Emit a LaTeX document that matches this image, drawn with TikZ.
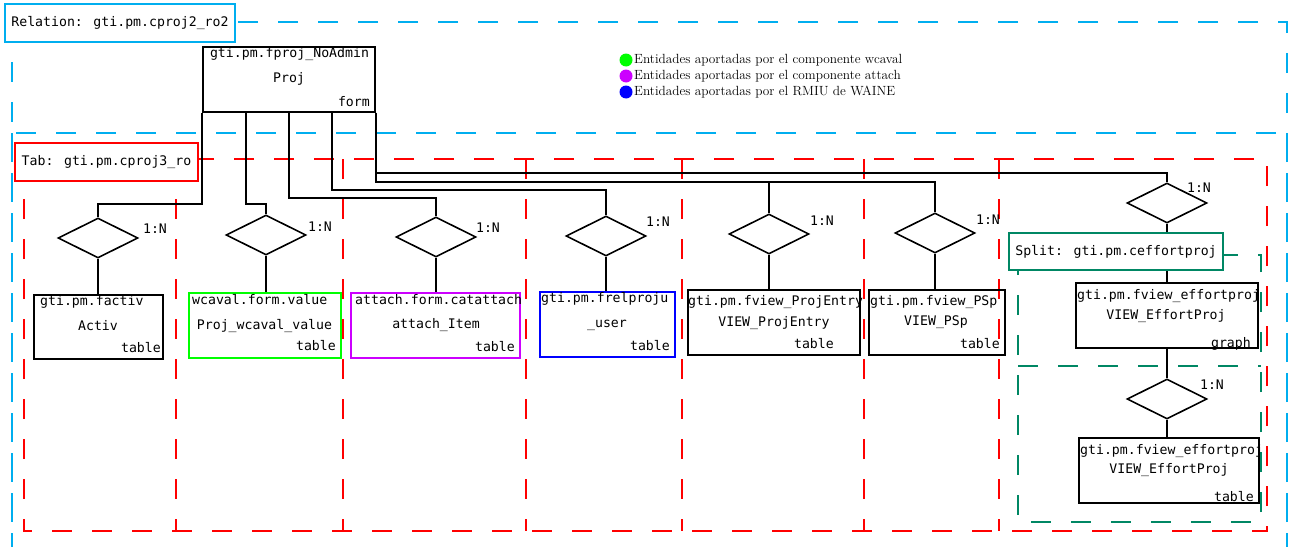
\documentclass[tikz,border=0pt]{standalone}
\usepackage{fontspec}
\newfontfamily\monofont{DejaVu Sans Mono}
\usetikzlibrary{shapes.geometric}
\definecolor{relcyan}{RGB}{0,174,239}
\definecolor{tabred}{RGB}{255,0,0}
\definecolor{splitgreen}{RGB}{0,135,100}
\definecolor{wgreen}{RGB}{0,255,0}
\definecolor{amag}{RGB}{204,0,255}
\definecolor{rblue}{RGB}{0,0,255}
\begin{document}
\begin{tikzpicture}[x=1pt,y=-1pt,
  mono/.style={font=\monofont\fontsize{13.2}{15}\selectfont, inner sep=0pt},
  ent/.style={draw, line width=1.6pt, inner sep=0pt},
  rel/.style={draw, diamond, line width=1.6pt, minimum width=80pt, minimum height=40pt, inner sep=0pt},
  conn/.style={line width=1.5pt},
  dashframe/.style={dash pattern=on 20pt off 20pt, line width=1.6pt},
  lbl/.style={fill=white, line width=1.6pt, inner sep=0pt, text=black, font=\monofont\fontsize{13.2}{15}\selectfont},
  legtext/.style={anchor=west, inner sep=0pt, font=\fontsize{13.3}{15}\selectfont}
]
\useasboundingbox (0,0) rectangle (1290,546);
\clip (0,0) rectangle (1290,546);
% frames
\draw[dashframe, relcyan] (12,22) rectangle (1287,570);
\draw[dashframe, relcyan] (12,133) rectangle (1287,570);
\draw[dashframe, tabred] (24,159) rectangle (1267,531);
\foreach \xx in {176,343,526,682,864,999}{
  \draw[dashframe, tabred] (\xx,159) -- (\xx,531);
}
\draw[dashframe, splitgreen] (1018,255) rectangle (1261,522);
\draw[dashframe, splitgreen] (1018,366) -- (1261,366);

% top entity
\node[ent, minimum width=172pt, minimum height=65pt] (proj) at (289,79.5) {};
\node[mono] (projt) at (289.5,54) {gti.pm.fproj\_NoAdmin};
\node[mono] (projm) at (289,79) {Proj};
\node[mono, anchor=east] (projb) at (370,102) {form};

% relationships
\node[rel] (d1) at (98,238) {};
\node[rel] (d2) at (266,235) {};
\node[rel] (d3) at (436,237) {};
\node[rel] (d4) at (606,236) {};
\node[rel] (d5) at (769,234) {};
\node[rel] (d6) at (935,233) {};
\node[rel] (d7) at (1167,203) {};
\node[rel] (d8) at (1167,399) {};

\node[mono] (c1) at (155,229) {1:N};
\node[mono] (c2) at (320,227) {1:N};
\node[mono] (c3) at (488,228) {1:N};
\node[mono] (c4) at (658,222) {1:N};
\node[mono] (c5) at (822,221) {1:N};
\node[mono] (c6) at (988,220) {1:N};
\node[mono] (c7) at (1199,188) {1:N};
\node[mono] (c8) at (1212,385) {1:N};

% entity boxes
\node[ent, minimum width=129pt, minimum height=64pt] (e1) at (98.5,327) {};
\node[ent, wgreen, minimum width=152pt, minimum height=65pt] (e2) at (265,325.5) {};
\node[ent, amag, minimum width=169pt, minimum height=65pt] (e3) at (435.5,325.5) {};
\node[ent, rblue, minimum width=135pt, minimum height=65pt] (e4) at (607.5,324.5) {};
\node[ent, minimum width=172pt, minimum height=65pt] (e5) at (774,322.5) {};
\node[ent, minimum width=136pt, minimum height=65pt] (e6) at (937,322.5) {};
\node[ent, minimum width=182pt, minimum height=65pt] (e7) at (1167,315.5) {};
\node[ent, minimum width=180pt, minimum height=65pt] (e8) at (1169,470.5) {};

% connectors
\coordinate (p2) at (246,112);
\coordinate (p3) at (289,112);
\coordinate (p4) at (332,112);
\draw[conn] (proj.south west) -- ++(0,91) -| (d1.north);
\draw[conn] (p2) -- ++(0,92) -| (d2.north);
\draw[conn] (p3) -- ++(0,86) -| (d3.north);
\draw[conn] (p4) -- ++(0,78) -| (d4.north);
\draw[conn] (proj.south east) -- ++(0,69) -| (d5.north);
\draw[conn] (proj.south east) -- ++(0,69) -| (d6.north);
\draw[conn] (proj.south east) -- ++(0,60) -| (d7.north);
\draw[conn] (d1.south) -- (d1.south |- e1.north);
\draw[conn] (d2.south) -- (d2.south |- e2.north);
\draw[conn] (d3.south) -- (d3.south |- e3.north);
\draw[conn] (d4.south) -- (d4.south |- e4.north);
\draw[conn] (d5.south) -- (d5.south |- e5.north);
\draw[conn] (d6.south) -- (d6.south |- e6.north);
\draw[conn] (d7.south) -- (d7.south |- e7.north);
\draw[conn] (e7.south -| d8.north) -- (d8.north);
\draw[conn] (d8.south) -- (d8.south |- e8.north);

% entity texts
\node[mono, anchor=west] (t1a) at (40,302) {gti.pm.factiv};
\node[mono] (t1b) at (98,326) {Activ};
\node[mono, anchor=east] (t1c) at (161,348) {table};

\node[mono, anchor=west] (t2a) at (192,300) {wcaval.form.value};
\node[mono] (t2b) at (264.5,326) {Proj\_wcaval\_value};
\node[mono, anchor=east] (t2c) at (336,346) {table};

\node[mono, anchor=west] (t3a) at (355,300) {attach.form.catattach};
\node[mono] (t3b) at (436,325) {attach\_Item};
\node[mono, anchor=east] (t3c) at (515,347) {table};

\node[mono, anchor=west] (t4a) at (541,299) {gti.pm.frelproju};
\node[mono] (t4b) at (607,325) {\_user};
\node[mono, anchor=east] (t4c) at (670,346) {table};

\node[mono, anchor=west] (t5a) at (688,302) {gti.pm.fview\_ProjEntry};
\node[mono] (t5b) at (774,323) {VIEW\_ProjEntry};
\node[mono, anchor=east] (t5c) at (834,344) {table};

\node[mono, anchor=west] (t6a) at (870,302) {gti.pm.fview\_PSp};
\node[mono] (t6b) at (936,322) {VIEW\_PSp};
\node[mono, anchor=east] (t6c) at (1000,344) {table};

\node[mono, anchor=west] (t7a) at (1077,296) {gti.pm.fview\_effortproj};
\node[mono] (t7b) at (1166,316) {VIEW\_EffortProj};
\node[mono, anchor=east] (t7c) at (1251,344) {graph};

\node[mono, anchor=west] (t8a) at (1080,451) {gti.pm.fview\_effortproj};
\node[mono] (t8b) at (1169,470) {VIEW\_EffortProj};
\node[mono, anchor=east] (t8c) at (1254,497) {table};

% frame labels
\node[lbl, draw=relcyan, minimum width=230pt, minimum height=38pt] (rellbl) at (120,23) {Relation: gti.pm.cproj2\_ro2};
\node[lbl, draw=tabred, minimum width=183pt, minimum height=38pt] (tablbl) at (106.5,162) {Tab: gti.pm.cproj3\_ro};
\node[lbl, draw=splitgreen, minimum width=214pt, minimum height=37pt] (splitlbl) at (1116,251.5) {Split: gti.pm.ceffortproj};

% legend
\node[circle, fill=wgreen, minimum size=13pt, inner sep=0pt] (lg1) at (626,60) {};
\node[circle, fill=amag, minimum size=13pt, inner sep=0pt] (lg2) at (626,76) {};
\node[circle, fill=rblue, minimum size=13pt, inner sep=0pt] (lg3) at (626,92) {};
\node[legtext] (lt1) at (634,60) {Entidades aportadas por el componente wcaval};
\node[legtext] (lt2) at (634,76) {Entidades aportadas por el componente attach};
\node[legtext] (lt3) at (634,92) {Entidades aportadas por el RMIU de WAINE};
\end{tikzpicture}
\end{document}
